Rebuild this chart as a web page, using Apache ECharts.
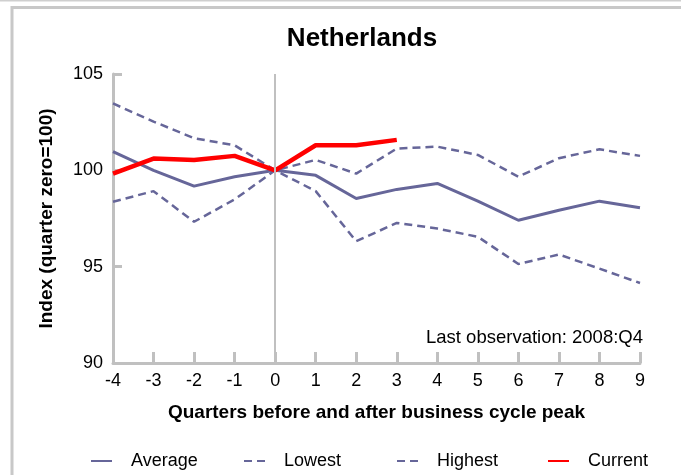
<!DOCTYPE html>
<html>
<head>
<meta charset="utf-8">
<script src="https://cdn.jsdelivr.net/npm/echarts@6/dist/echarts.min.js"></script>
<style>
html,body{margin:0;padding:0;background:#fff;}
#chart{width:681px;height:475px;}
</style>
</head>
<body>
<div id="chart"></div>
<script>
const quarters = [-4, -3, -2, -1, 0, 1, 2, 3, 4, 5, 6, 7, 8, 9];
const average = [100.97, 100.0, 99.18, 99.67, 100.0, 99.74, 98.54, 99.01, 99.32, 98.4, 97.41, 97.93, 98.4, 98.06];
const lowest  = [98.37, 98.92, 97.33, 98.49, 100.0, 98.92, 96.32, 97.27, 96.98, 96.55, 95.14, 95.63, 94.9, 94.15];
const highest = [103.47, 102.53, 101.67, 101.3, 100.0, 100.54, 99.83, 101.13, 101.23, 100.8, 99.67, 100.63, 101.09, 100.75];
const current = [99.83, 100.61, 100.54, 100.75, 100.0, 101.3, 101.3, 101.58];
const yTicks = [90, 95, 100, 105];

const pair = arr => arr.map((v, i) => [quarters[i], v]);
const navy = '#666699';
const FONT = '"Liberation Sans", Arial, sans-serif';

const chart = echarts.init(document.getElementById('chart'), null, {renderer: 'canvas'});

function legendAt(name, left) {
  return {
    data: [name], left: left, top: 452, orient: 'horizontal',
    itemWidth: 21, itemHeight: 14, padding: 0,
    itemStyle: {opacity: 0, borderWidth: 0},
    textStyle: {fontFamily: FONT, fontSize: 18, color: '#000', padding: [0, 0, 0, 14]}
  };
}

chart.setOption({
  animation: false,
  backgroundColor: '#fff',
  title: {
    text: 'Netherlands', left: 357, top: 21, textAlign: 'center',
    textStyle: {fontFamily: FONT, fontSize: 26, fontWeight: 'bold', color: '#000'}
  },
  graphic: [
    {type: 'line', shape: {x1: 0, y1: 0.5, x2: 681, y2: 0.5}, style: {stroke: '#cfcfcf', lineWidth: 2}, silent: true},
    {type: 'polyline', shape: {points: [[12, 480], [12, 7.5], [681, 7.5]]}, style: {stroke: '#c8c8c8', lineWidth: 3, fill: null}, silent: true},
    {type: 'text', right: 38, top: 328, style: {text: 'Last observation: 2008:Q4', fontFamily: FONT, fontSize: 18.5, fill: '#000', textAlign: 'right'}}
  ],
  legend: [
    legendAt('Average', 90),
    legendAt('Lowest', 243),
    legendAt('Highest', 396),
    legendAt('Current', 547)
  ],
  grid: {left: 113, right: 41, top: 74, bottom: 112, containLabel: false},
  xAxis: {
    type: 'value', min: -4, max: 9, interval: 1,
    name: 'Quarters before and after business cycle peak',
    nameLocation: 'middle', nameGap: 40,
    nameTextStyle: {fontFamily: FONT, fontSize: 19, fontWeight: 'bold', color: '#000'},
    axisLine: {show: true, onZero: false, lineStyle: {color: '#c0c0c0', width: 3}},
    axisTick: {show: true, inside: true, length: 11, lineStyle: {color: '#c0c0c0', width: 3}},
    axisLabel: {fontFamily: FONT, fontSize: 18, color: '#000', margin: 9},
    splitLine: {show: false}
  },
  yAxis: {
    type: 'value', min: yTicks[0], max: yTicks[yTicks.length - 1], interval: 5,
    name: 'Index (quarter zero=100)',
    nameLocation: 'middle', nameGap: 57, nameRotate: 90,
    nameTextStyle: {fontFamily: FONT, fontSize: 19, fontWeight: 'bold', color: '#000'},
    axisLine: {show: true, onZero: false, lineStyle: {color: '#c0c0c0', width: 3}},
    axisTick: {show: true, inside: true, length: 9, lineStyle: {color: '#c0c0c0', width: 3}},
    axisLabel: {fontFamily: FONT, fontSize: 18, color: '#000', margin: 10},
    splitLine: {show: false}
  },
  series: [
    {
      name: 'Average', type: 'line', data: pair(average), symbol: 'none', z: 3,
      lineStyle: {color: navy, width: 3}, itemStyle: {color: navy},
      markLine: {
        silent: true, symbol: ['none', 'none'], label: {show: false},
        lineStyle: {color: '#c0c0c0', width: 2, type: 'solid'},
        data: [{xAxis: 0}]
      }
    },
    {
      name: 'Lowest', type: 'line', data: pair(lowest), symbol: 'none', z: 3,
      lineStyle: {color: navy, width: 2.5, type: [8, 5]}, itemStyle: {color: navy}
    },
    {
      name: 'Highest', type: 'line', data: pair(highest), symbol: 'none', z: 3,
      lineStyle: {color: navy, width: 2.5, type: [8, 5]}, itemStyle: {color: navy}
    },
    {
      name: 'Current', type: 'line', data: pair(current), symbol: 'none', z: 4,
      lineStyle: {color: '#ff0000', width: 4.5}, itemStyle: {color: '#ff0000'}
    }
  ]
});
</script>
</body>
</html>
